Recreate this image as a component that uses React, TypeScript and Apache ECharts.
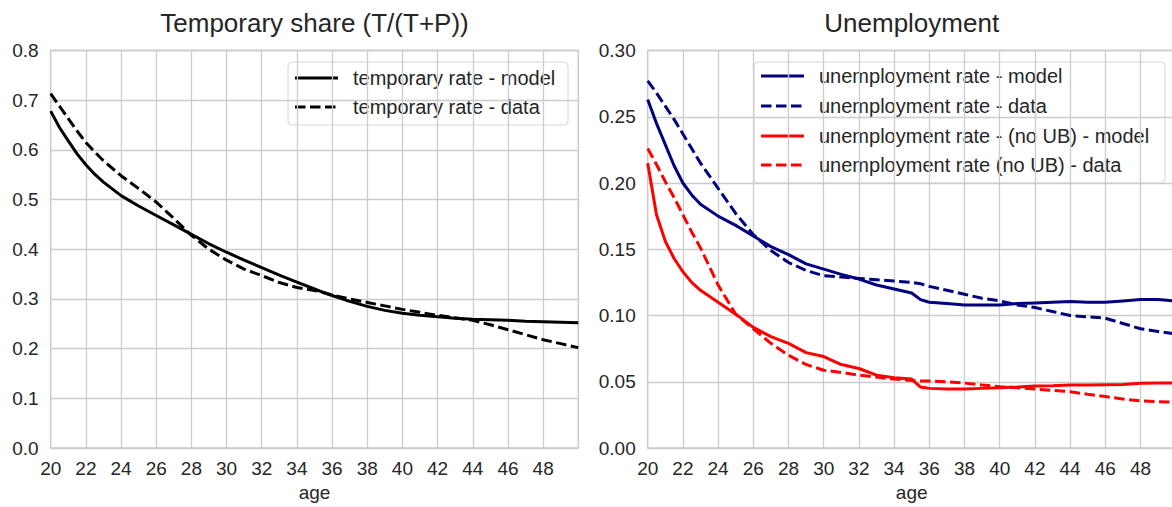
import React, { useEffect, useRef } from "react";
import * as echarts from "echarts";

// ---------- data ----------
const ages = [20, 20.5, 21, 21.5, 22, 22.5, 23, 24, 25, 26, 27, 28, 29, 30, 31, 32, 33, 34, 35, 35.5, 36, 37, 38, 39, 40, 41, 42, 43, 44, 45, 46, 47, 48, 49, 50];

const tempModel = [0.678, 0.645, 0.618, 0.592, 0.57, 0.551, 0.535, 0.508, 0.487, 0.468, 0.449, 0.43, 0.411, 0.394, 0.378, 0.363, 0.348, 0.334, 0.32, 0.313, 0.307, 0.295, 0.285, 0.277, 0.271, 0.267, 0.264, 0.261, 0.259, 0.258, 0.257, 0.255, 0.254, 0.253, 0.252];
const tempData = [0.713, 0.688, 0.663, 0.638, 0.615, 0.596, 0.578, 0.548, 0.522, 0.495, 0.462, 0.428, 0.4, 0.378, 0.36, 0.347, 0.333, 0.323, 0.317, 0.313, 0.308, 0.3, 0.293, 0.286, 0.279, 0.273, 0.267, 0.262, 0.257, 0.248, 0.238, 0.228, 0.218, 0.21, 0.202];

const unempModel = [0.263, 0.245, 0.229, 0.213, 0.2, 0.191, 0.184, 0.175, 0.168, 0.16, 0.152, 0.146, 0.139, 0.135, 0.131, 0.1275, 0.123, 0.12, 0.117, 0.112, 0.11, 0.109, 0.108, 0.108, 0.108, 0.109, 0.1095, 0.11, 0.1105, 0.11, 0.11, 0.111, 0.112, 0.112, 0.111];
const unempData = [0.277, 0.268, 0.258, 0.248, 0.237, 0.226, 0.215, 0.196, 0.177, 0.161, 0.149, 0.14, 0.134, 0.13, 0.129, 0.128, 0.127, 0.126, 0.125, 0.124, 0.122, 0.119, 0.116, 0.113, 0.111, 0.108, 0.106, 0.103, 0.1, 0.099, 0.098, 0.094, 0.09, 0.088, 0.086];
const unempNoUbModel = [0.215, 0.176, 0.156, 0.143, 0.133, 0.125, 0.119, 0.11, 0.101, 0.091, 0.084, 0.079, 0.072, 0.069, 0.063, 0.06, 0.055, 0.053, 0.052, 0.046, 0.045, 0.0445, 0.0445, 0.045, 0.0455, 0.046, 0.0467, 0.047, 0.0475, 0.0475, 0.0478, 0.048, 0.0488, 0.049, 0.049];
const unempNoUbData = [0.226, 0.214, 0.201, 0.189, 0.176, 0.163, 0.151, 0.123, 0.101, 0.09, 0.079, 0.07, 0.063, 0.0587, 0.057, 0.055, 0.0535, 0.052, 0.051, 0.0505, 0.0505, 0.05, 0.049, 0.0475, 0.0463, 0.0455, 0.0445, 0.0435, 0.0425, 0.0405, 0.0388, 0.037, 0.0355, 0.035, 0.0345];

const leftTitle = "Temporary share (T/(T+P))";
const rightTitle = "Unemployment";
const xName = "age";
const leftLabels = ["temporary rate - model", "temporary rate - data"];
const rightLabels = [
  "unemployment rate - model",
  "unemployment rate - data",
  "unemployment rate - (no UB) - model",
  "unemployment rate (no UB) - data",
];

const FONT = "'Liberation Sans', Arial, Helvetica, sans-serif";
const TXT = "#262626";
const GRIDC = "#cccccc";
const NAVY = "#000080";
const RED = "#ff0000";
const DASH = [10.5, 4.5];
const LW = 3;

const pairs = (vals: number[]) => ages.map((a, i) => [a, vals[i]]);

function legendGroup(
  x: number,
  y: number,
  w: number,
  h: number,
  rowY: number[],
  items: { label: string; color: string; dashed: boolean }[]
) {
  const children: any[] = [
    {
      type: "rect",
      shape: { x, y, width: w, height: h, r: 4 },
      style: { fill: "rgba(255,255,255,0.8)", stroke: "#d6d6d6", lineWidth: 1 },
    },
  ];
  items.forEach((it, i) => {
    children.push({
      type: "line",
      shape: { x1: x + 7, y1: rowY[i], x2: x + 50, y2: rowY[i] },
      style: { stroke: it.color, lineWidth: LW, lineDash: it.dashed ? DASH : null },
    });
    children.push({
      type: "text",
      x: x + 65,
      y: rowY[i],
      style: { text: it.label, font: `20px ${FONT}`, fill: TXT, verticalAlign: "middle", align: "left" },
    });
  });
  return { type: "group", z: 100, children };
}

function xAxisFor(gridIndex: number) {
  return {
    gridIndex,
    type: "value",
    min: 20,
    max: 50,
    interval: 2,
    name: xName,
    nameLocation: "middle",
    nameGap: 35,
    nameTextStyle: { fontSize: 19, color: TXT, fontFamily: FONT },
    axisLine: { show: false },
    axisTick: { show: false },
    axisLabel: { fontSize: 19, color: TXT, fontFamily: FONT, margin: 11, showMaxLabel: false },
    splitLine: { show: true, lineStyle: { color: GRIDC, width: 1.3 } },
  };
}

function yAxisFor(gridIndex: number, max: number, interval: number, dec: number) {
  return {
    gridIndex,
    type: "value",
    min: 0,
    max,
    interval,
    axisLine: { show: false },
    axisTick: { show: false },
    axisLabel: {
      fontSize: 19,
      color: TXT,
      fontFamily: FONT,
      margin: 12,
      formatter: (v: number) => v.toFixed(dec),
    },
    splitLine: { show: true, lineStyle: { color: GRIDC, width: 1.3 } },
  };
}

function lineSeries(name: string, vals: number[], color: string, dashed: boolean, idx: number) {
  return {
    name,
    type: "line",
    xAxisIndex: idx,
    yAxisIndex: idx,
    data: pairs(vals),
    showSymbol: false,
    symbol: "none",
    smooth: false,
    lineStyle: { color, width: LW, type: dashed ? DASH : "solid", cap: "butt" },
    itemStyle: { color },
  };
}

export default function App() {
  const ref = useRef<HTMLDivElement>(null);
  useEffect(() => {
    if (!ref.current) return;
    const chart = echarts.init(ref.current, undefined, { renderer: "svg" });
    const gl = { left: 50.7, top: 50.5, width: 527.6, height: 399.5 };
    const gr = { left: 647.7, top: 50.5, width: 528, height: 399.5 };
    chart.setOption({
      animation: false,
      backgroundColor: "#ffffff",
      grid: [
        { ...gl, show: true, borderColor: GRIDC, borderWidth: 1.3, containLabel: false },
        { ...gr, show: true, borderColor: GRIDC, borderWidth: 1.3, containLabel: false },
      ],
      xAxis: [xAxisFor(0), xAxisFor(1)],
      yAxis: [yAxisFor(0, 0.8, 0.1, 1), yAxisFor(1, 0.3, 0.05, 2)],
      series: [
        lineSeries(leftLabels[0], tempModel, "#000000", false, 0),
        lineSeries(leftLabels[1], tempData, "#000000", true, 0),
        lineSeries(rightLabels[0], unempModel, NAVY, false, 1),
        lineSeries(rightLabels[1], unempData, NAVY, true, 1),
        lineSeries(rightLabels[2], unempNoUbModel, RED, false, 1),
        lineSeries(rightLabels[3], unempNoUbData, RED, true, 1),
      ],
      graphic: [
        {
          type: "text",
          x: gl.left + gl.width / 2,
          y: 23,
          style: { text: leftTitle, font: `26px ${FONT}`, fill: TXT, align: "center", verticalAlign: "middle" },
        },
        {
          type: "text",
          x: gr.left + gr.width / 2,
          y: 23,
          style: { text: rightTitle, font: `26px ${FONT}`, fill: TXT, align: "center", verticalAlign: "middle" },
        },
        legendGroup(288, 62, 280, 63, [78, 107], [
          { label: leftLabels[0], color: "#000000", dashed: false },
          { label: leftLabels[1], color: "#000000", dashed: true },
        ]),
        legendGroup(754, 62, 411, 121, [76, 106, 136, 165], [
          { label: rightLabels[0], color: NAVY, dashed: false },
          { label: rightLabels[1], color: NAVY, dashed: true },
          { label: rightLabels[2], color: RED, dashed: false },
          { label: rightLabels[3], color: RED, dashed: true },
        ]),
      ],
    });
    return () => chart.dispose();
  }, []);
  return (
    <div
      ref={ref}
      style={{ position: "fixed", left: 0, top: 0, width: 1180, height: 507, background: "#fff" }}
    />
  );
}
